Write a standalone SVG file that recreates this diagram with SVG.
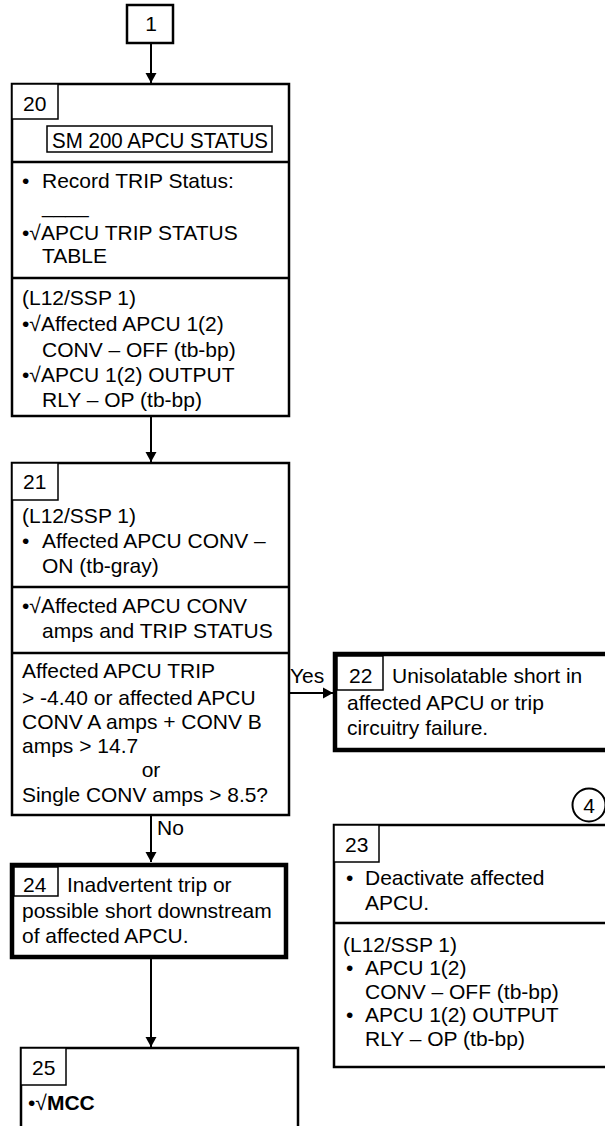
<svg xmlns="http://www.w3.org/2000/svg" width="605" height="1126" viewBox="0 0 605 1126">
<style>
text{font-family:"Liberation Sans",Arial,sans-serif;font-size:21px;fill:#000}
.box{fill:#fff;stroke:#000;stroke-width:2.5}
.thick{fill:#fff;stroke:#000;stroke-width:4.5}
.lbl{fill:#fff;stroke:#000;stroke-width:1.5}
.sep{stroke:#000;stroke-width:2.5}
.con{stroke:#000;stroke-width:2;fill:none}
.b{font-weight:bold}
</style>
<defs>
<marker id="ah" markerWidth="10" markerHeight="15" refX="10" refY="7.5" orient="auto" markerUnits="userSpaceOnUse">
<path d="M0,2 L10,7.5 L0,13 Z" fill="#000"/>
</marker>
</defs>
<g id="connectors">
<line class="con" x1="151" y1="43" x2="151" y2="83" marker-end="url(#ah)"/>
<line class="con" x1="151" y1="416" x2="151" y2="462" marker-end="url(#ah)"/>
<line class="con" x1="289" y1="693" x2="333" y2="693" marker-end="url(#ah)"/>
<text x="290" y="683">Yes</text>
<line class="con" x1="151" y1="815" x2="151" y2="862" marker-end="url(#ah)"/>
<text x="157" y="835">No</text>
<line class="con" x1="151" y1="958" x2="151" y2="1047" marker-end="url(#ah)"/>
</g>
<g id="n1">
<rect class="box" x="127" y="5" width="46" height="38" stroke-width="2"/>
<text x="151" y="31" text-anchor="middle">1</text>
</g>
<g id="n20">
<rect class="box" x="12" y="84" width="277" height="332"/>
<rect class="lbl" x="12" y="84" width="46" height="35"/>
<text x="23" y="111">20</text>
<rect class="lbl" x="47" y="126" width="225" height="26" stroke-width="2"/>
<text x="52" y="148" style="font-size:22.5px" textLength="216" lengthAdjust="spacingAndGlyphs">SM 200 APCU STATUS</text>
<line class="sep" x1="12" y1="162" x2="289" y2="162"/>
<text x="22" y="188">•</text>
<text x="42" y="188">Record TRIP Status:</text>
<text x="42" y="213">____</text>
<text x="22" y="240">•√APCU TRIP STATUS</text>
<text x="42" y="263">TABLE</text>
<line class="sep" x1="12" y1="278" x2="289" y2="278"/>
<text x="22" y="305">(L12/SSP 1)</text>
<text x="22" y="331">•√Affected APCU 1(2)</text>
<text x="42" y="357">CONV – OFF (tb-bp)</text>
<text x="22" y="382">•√APCU 1(2) OUTPUT</text>
<text x="42" y="407">RLY – OP (tb-bp)</text>
</g>
<g id="n21">
<rect class="box" x="12" y="463" width="277" height="352"/>
<rect class="lbl" x="12" y="463" width="46" height="37"/>
<text x="23" y="489">21</text>
<text x="22" y="523">(L12/SSP 1)</text>
<text x="22" y="548">•</text>
<text x="42" y="548">Affected APCU CONV –</text>
<text x="42" y="573">ON (tb-gray)</text>
<line class="sep" x1="12" y1="587" x2="289" y2="587"/>
<text x="22" y="613">•√Affected APCU CONV</text>
<text x="42" y="638">amps and TRIP STATUS</text>
<line class="sep" x1="12" y1="653" x2="289" y2="653"/>
<text x="22" y="678">Affected APCU TRIP</text>
<text x="22" y="705">&gt; -4.40 or affected APCU</text>
<text x="22" y="729">CONV A amps + CONV B</text>
<text x="22" y="753">amps &gt; 14.7</text>
<text x="151" y="777" text-anchor="middle">or</text>
<text x="22" y="802" textLength="246" lengthAdjust="spacingAndGlyphs">Single CONV amps &gt; 8.5?</text>
</g>
<g id="n22">
<rect class="thick" x="335" y="654" width="300" height="96"/>
<rect class="lbl" x="337" y="656" width="46" height="34"/>
<text x="349" y="683">22</text>
<text x="392" y="683">Unisolatable short in</text>
<text x="347" y="710">affected APCU or trip</text>
<text x="347" y="735">circuitry failure.</text>
</g>
<g id="n4">
<circle cx="589" cy="805" r="16.5" fill="#fff" stroke="#000" stroke-width="2"/>
<text x="589" y="813" text-anchor="middle">4</text>
</g>
<g id="n23">
<rect class="box" x="334" y="825" width="300" height="242"/>
<rect class="lbl" x="334" y="825" width="45" height="37"/>
<text x="345" y="852">23</text>
<text x="346" y="885">•</text>
<text x="365" y="885">Deactivate affected</text>
<text x="365" y="910">APCU.</text>
<line class="sep" x1="334" y1="923" x2="605" y2="923"/>
<text x="343" y="952">(L12/SSP 1)</text>
<text x="346" y="975">•</text>
<text x="365" y="975">APCU 1(2)</text>
<text x="365" y="999">CONV – OFF (tb-bp)</text>
<text x="346" y="1022">•</text>
<text x="365" y="1022">APCU 1(2) OUTPUT</text>
<text x="365" y="1046">RLY – OP (tb-bp)</text>
</g>
<g id="n24">
<rect class="thick" x="12" y="865" width="274" height="92"/>
<rect class="lbl" x="14" y="867" width="44" height="29"/>
<text x="23" y="892">24</text>
<text x="67" y="892">Inadvertent trip or</text>
<text x="22" y="918">possible short downstream</text>
<text x="22" y="943">of affected APCU.</text>
</g>
<g id="n25">
<rect class="box" x="21" y="1048" width="277" height="100"/>
<rect class="lbl" x="21" y="1048" width="45" height="37"/>
<text x="32" y="1075">25</text>
<text x="28" y="1110">•√<tspan class="b">MCC</tspan></text>
</g>
</svg>
